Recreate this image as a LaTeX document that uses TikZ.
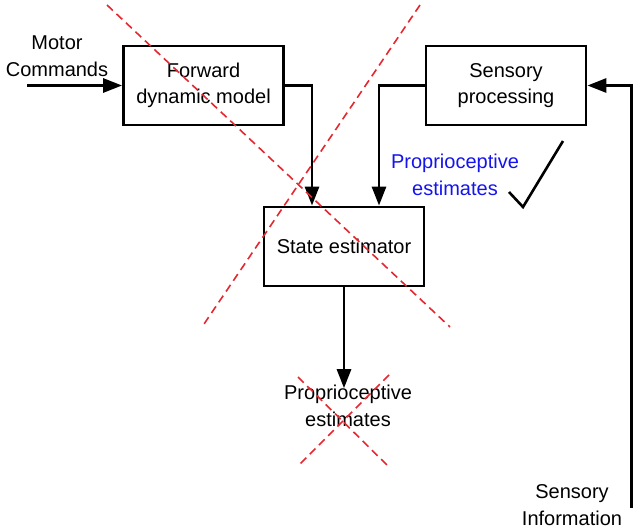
\documentclass[tikz,border=0pt]{standalone}
\usepackage{fontspec}
\setmainfont{Liberation Sans}
\usetikzlibrary{arrows.meta}
\definecolor{crossred}{RGB}{228,40,48}
\begin{document}
\begin{tikzpicture}[x=1pt,y=-1pt,
    font=\fontsize{20}{26.5}\selectfont,
    block/.style={draw,line width=2.8pt,minimum width=160pt,minimum height=79pt,align=center,inner sep=0pt},
    label/.style={align=center,inner sep=0pt},
    flow/.style={line width=2.8pt,-{Triangle[length=19pt,width=14pt]}},
    cross/.style={crossred,line width=1.6pt,dash pattern=on 8pt off 5pt}]
  \useasboundingbox (0,0) rectangle (638,530);
  \draw
    (203.5,85.5) node[block] (fwd){Forward\\dynamic model}
    (506,85.5) node[block] (sens){Sensory\\processing}
    (344,246.5) node[block] (state){State estimator}
    (57,56) node[label] (motor){Motor\\Commands}
    (348,406) node[label] (pe){Proprioceptive\\estimates}
    (455,175) node[label,text={rgb,255:red,20;green,20;blue,235}] (pesens){Proprioceptive\\estimates}
    (572,505) node[label] (sensinfo){Sensory\\Information};
  \coordinate (mc) at (27,85.5);
  \coordinate (si) at (631.5,508);
  \begin{scope}[flow]
    \draw (mc) -- (fwd.west);
    \draw (fwd.east) -| ([xshift=-32pt]state.north);
    \draw (sens.west) -| ([xshift=35pt]state.north);
    \draw (si) |- (sens.east);
    \draw (state.south) -- ([yshift=-3pt]state.south |- pe.north);
  \end{scope}
  \draw[line width=2.6pt,line join=miter] (509,192) -- (523,207) -- (563,141);
  \begin{scope}[cross]
    \draw (107,5) -- (450,327);
    \draw (420,5) -- (202,327);
    \draw (298,377) -- (389,467);
    \draw (389,375) -- (298,466);
  \end{scope}
\end{tikzpicture}
\end{document}
